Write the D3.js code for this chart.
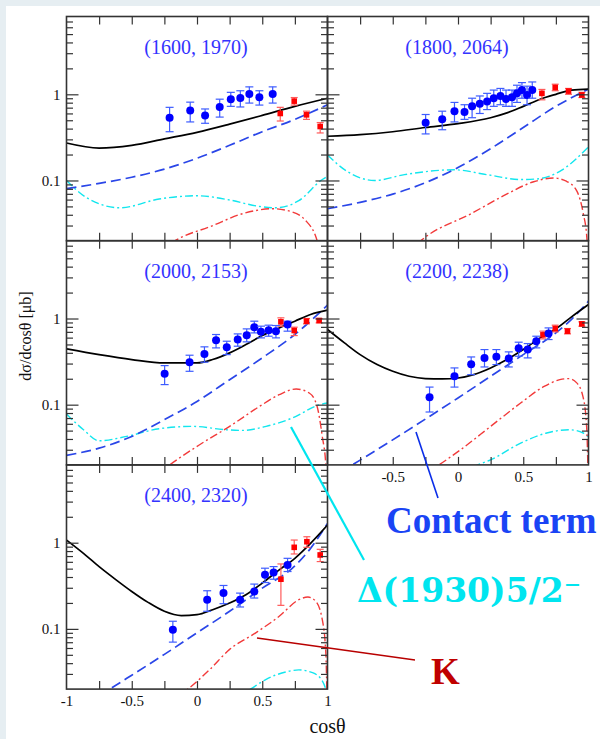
<!DOCTYPE html>
<html>
<head>
<meta charset="utf-8">
<script src="https://cdn.jsdelivr.net/npm/d3@7"></script>
<style>
  html, body { margin: 0; padding: 0; background: #fff; }
  svg { display: block; }
</style>
</head>
<body>
<div id="chart"></div>
<script>
// ---------------- DATA ----------------
const panelTitles = ["(1600, 1970)", "(1800, 2064)", "(2000, 2153)", "(2200, 2238)", "(2400, 2320)"];

// CLAS-like data (blue circles): [cosθ, value, low, high]
const blue1 = [[-0.21,0.535,0.368,0.706],[-0.052,0.647,0.478,0.811],[0.062,0.569,0.461,0.676],[0.174,0.713,0.544,0.878],[0.259,0.878,0.725,1.054],[0.332,0.909,0.713,1.10],[0.401,1.01,0.791,1.22],[0.478,0.925,0.75,1.10],[0.58,1.01,0.791,1.22]];
const blue2 = [[-0.248,0.469,0.347,0.583],[-0.121,0.512,0.388,0.637],[-0.027,0.637,0.478,0.805],[0.05,0.625,0.512,0.757],[0.108,0.725,0.535,0.901],[0.167,0.778,0.599,0.957],[0.223,0.826,0.665,1.026],[0.274,0.901,0.725,1.12],[0.325,0.957,0.757,1.17],[0.368,0.885,0.725,1.12],[0.414,0.925,0.725,1.12],[0.452,1.026,0.805,1.275],[0.49,1.12,0.901,1.367],[0.529,0.983,0.757,1.243],[0.569,1.12,0.901,1.391]];
const blue3 = [[-0.248,0.229,0.171,0.284],[-0.057,0.311,0.244,0.375],[0.057,0.388,0.311,0.469],[0.146,0.56,0.456,0.652],[0.228,0.464,0.381,0.545],[0.312,0.57,0.477,0.663],[0.381,0.64,0.536,0.758],[0.439,0.793,0.681,0.931],[0.49,0.70,0.596,0.815],[0.549,0.731,0.623,0.837],[0.605,0.713,0.596,0.829],[0.694,0.851,0.713,0.931]];
const blue4 = [[-0.218,0.1217,0.0822,0.16],[-0.027,0.2135,0.16,0.267],[0.101,0.294,0.223,0.358],[0.203,0.349,0.274,0.436],[0.294,0.361,0.292,0.436],[0.389,0.343,0.274,0.41],[0.465,0.452,0.365,0.531],[0.534,0.436,0.349,0.512],[0.6,0.545,0.456,0.623],[0.694,0.669,0.57,0.778]];
const blue5 = [[-0.185,0.0974,0.0702,0.1226],[0.078,0.218,0.16,0.277],[0.203,0.26,0.196,0.319],[0.33,0.218,0.1795,0.26],[0.439,0.272,0.228,0.331],[0.521,0.424,0.345,0.506],[0.587,0.451,0.377,0.528],[0.694,0.552,0.463,0.659]];

// second data set (red squares): [cosθ, value, low, high]
const red1 = [[0.638,0.599,0.49,0.706],[0.745,0.833,0.75,0.917],[0.839,0.578,0.512,0.637],[0.944,0.423,0.356,0.47]];
const red2 = [[0.643,1.026,0.863,1.139],[0.745,1.20,1.10,1.31],[0.847,1.09,1.0,1.17],[0.949,0.983,0.917,1.054]];
const red3 = [[0.643,0.915,0.814,1.018],[0.745,0.725,0.634,0.793],[0.839,0.931,0.867,1.0],[0.936,0.948,0.89,1.0]];
const red4 = [[0.651,0.646,0.58,0.713],[0.745,0.765,0.70,0.837],[0.839,0.713,0.663,0.765],[0.949,0.867,0.814,0.915]];
const red5 = [[0.643,0.377,0.1875,0.567],[0.745,0.884,0.74,1.074],[0.842,1.027,0.884,1.173],[0.944,0.721,0.604,0.838]];

// total (black solid)
const total1 = [[-1,0.272],[-0.75,0.238],[-0.5,0.256],[-0.25,0.304],[0,0.362],[0.25,0.45],[0.5,0.569],[0.75,0.725],[1,0.901]];
const total2 = [[-1,0.326],[-0.75,0.34],[-0.5,0.368],[-0.25,0.412],[0,0.457],[0.25,0.535],[0.375,0.609],[0.5,0.725],[0.63,0.878],[0.75,1.0],[0.87,1.12],[1,1.149]];
const total3 = [[-1,0.444],[-0.75,0.381],[-0.5,0.334],[-0.25,0.305],[0,0.305],[0.12,0.334],[0.25,0.399],[0.375,0.499],[0.5,0.634],[0.63,0.778],[0.75,0.931],[0.87,1.113],[1,1.25]];
const total4 = [[-1,0.745],[-0.87,0.521],[-0.75,0.381],[-0.62,0.292],[-0.5,0.244],[-0.375,0.2135],[-0.25,0.2006],[-0.12,0.1988],[0,0.204],[0.12,0.223],[0.25,0.267],[0.375,0.334],[0.5,0.436],[0.63,0.596],[0.75,0.758],[0.87,1.046],[1,1.455]];
const total5 = [[-1,1.074],[-0.87,0.753],[-0.75,0.528],[-0.62,0.371],[-0.5,0.272],[-0.375,0.203],[-0.25,0.16],[-0.12,0.1425],[0,0.1463],[0.12,0.167],[0.25,0.1995],[0.375,0.249],[0.5,0.34],[0.63,0.484],[0.75,0.659],[0.87,0.982],[1,1.6]];

// contact term (blue dashed)
const contact1 = [[-1,0.0805],[-0.75,0.0925],[-0.5,0.109],[-0.25,0.1356],[0,0.181],[0.25,0.256],[0.5,0.368],[0.75,0.512],[1,0.757]];
const contact2 = [[-1,0.047],[-0.75,0.0558],[-0.5,0.0695],[-0.25,0.0942],[0,0.1415],[0.25,0.234],[0.5,0.412],[0.75,0.725],[1,1.149]];
const contact3 = [[-1,0.0258],[-0.75,0.0313],[-0.5,0.0428],[-0.25,0.067],[0,0.109],[0.25,0.195],[0.5,0.349],[0.75,0.652],[1,1.43]];
const contact4 = [[-1,0.0135],[-0.81,0.02],[-0.54,0.0358],[-0.25,0.068],[0,0.1196],[0.25,0.2135],[0.5,0.381],[0.75,0.681],[0.87,0.98],[1,1.59]];
const contact5 = [[-0.85,0.0138],[-0.67,0.02],[-0.5,0.029],[-0.25,0.0506],[0,0.09],[0.25,0.16],[0.5,0.297],[0.75,0.538],[0.87,0.86],[1,1.67]];

// Δ(1930)5/2⁻ (cyan dash-dot)
const delta1 = [[-1,0.1],[-0.85,0.0637],[-0.59,0.0482],[-0.29,0.0609],[0,0.0665],[0.25,0.0594],[0.48,0.0499],[0.6,0.0482],[0.78,0.0583],[0.96,0.1026],[1,0.112]];
const delta2 = [[-1,0.197],[-0.85,0.1276],[-0.64,0.1],[-0.41,0.117],[-0.03,0.133],[0.22,0.117],[0.48,0.1026],[0.6,0.104],[0.78,0.1276],[1,0.245]];
const delta3 = [[-1,0.0779],[-0.87,0.0512],[-0.75,0.0381],[-0.54,0.0428],[-0.29,0.0526],[-0.03,0.056],[0.22,0.0512],[0.35,0.0503],[0.53,0.056],[0.73,0.07],[0.94,0.1],[1,0.1045]];
const delta4 = [[0,0.016],[0.15,0.02],[0.25,0.0229],[0.48,0.0358],[0.68,0.0469],[0.85,0.0512],[0.96,0.0469],[1,0.042]];
const delta5 = [[0.3,0.016],[0.41,0.02],[0.53,0.026],[0.68,0.0316],[0.78,0.0334],[0.885,0.031],[0.96,0.0249],[0.987,0.02],[1,0.017]];

// K exchange (red dash-dot)
const kaon1 = [[-0.3,0.015],[-0.12,0.0219],[0.1,0.0291],[0.35,0.0412],[0.58,0.047],[0.73,0.0431],[0.83,0.0346],[0.91,0.0224],[0.96,0.012]];
const kaon2 = [[-0.4,0.014],[-0.25,0.022],[0.1,0.0412],[0.35,0.0665],[0.58,0.0966],[0.73,0.107],[0.83,0.098],[0.91,0.0757],[0.96,0.0412],[0.987,0.022],[0.997,0.008]];
const kaon3 = [[-0.4,0.012],[-0.21,0.02],[0.02,0.0343],[0.25,0.056],[0.48,0.0957],[0.63,0.1306],[0.76,0.152],[0.86,0.1367],[0.92,0.0957],[0.96,0.0428],[0.987,0.02],[0.997,0.008]];
const kaon4 = [[-0.35,0.013],[-0.146,0.02],[0.02,0.03],[0.25,0.056],[0.48,0.1045],[0.66,0.163],[0.78,0.195],[0.85,0.2006],[0.91,0.179],[0.96,0.1196],[0.987,0.0512],[0.998,0.012]];
const kaon5 = [[-0.25,0.013],[-0.07,0.02],[0.1,0.034],[0.25,0.0578],[0.45,0.09],[0.63,0.14],[0.78,0.218],[0.85,0.234],[0.91,0.2086],[0.96,0.128],[0.987,0.0528],[0.998,0.012]];

// axis ticks
const xMinorTicks = [-0.75,-0.5,-0.25,0,0.25,0.5,0.75];
const xLabelTicksFull = [-1,-0.5,0,0.5,1];
const xLabelTicksNoFirst = [-0.5,0,0.5,1];
const yMajorTicks = [0.1, 1];
const yMinorTicks = [0.03,0.04,0.05,0.06,0.07,0.08,0.09,0.2,0.3,0.4,0.5,0.6,0.7,0.8,0.9,2,3,4,5,6,7];
const yTickLabels = {0.1: "0.1", 1: "1"};

// ---------------- LAYOUT ----------------
const W = 600, H = 739;
const X0 = 66.5, Y0 = 16.5, PW = 261, PH = 224.2;

const panels = [
  {col:0,row:0,title:panelTitles[0],blue:blue1,red:red1,total:total1,contact:contact1,delta:delta1,kaon:kaon1,yLabels:true,xLabels:null},
  {col:1,row:0,title:panelTitles[1],blue:blue2,red:red2,total:total2,contact:contact2,delta:delta2,kaon:kaon2,yLabels:false,xLabels:null},
  {col:0,row:1,title:panelTitles[2],blue:blue3,red:red3,total:total3,contact:contact3,delta:delta3,kaon:kaon3,yLabels:true,xLabels:null},
  {col:1,row:1,title:panelTitles[3],blue:blue4,red:red4,total:total4,contact:contact4,delta:delta4,kaon:kaon4,yLabels:false,xLabels:xLabelTicksNoFirst},
  {col:0,row:2,title:panelTitles[4],blue:blue5,red:red5,total:total5,contact:contact5,delta:delta5,kaon:kaon5,yLabels:true,xLabels:xLabelTicksFull}
];

const serif = "'Liberation Serif','Times New Roman',Times,serif";
const frameColor = "#333";

const svg = d3.select("#chart").append("svg").attr("width", W).attr("height", H)
  .attr("viewBox", `0 0 ${W} ${H}`);

svg.append("rect").attr("width", W).attr("height", H).attr("fill", "#fff");
// light border strips
svg.append("rect").attr("x",0).attr("y",0).attr("width",W).attr("height",6).attr("fill","#e6eef2");
svg.append("rect").attr("x",0).attr("y",0).attr("width",6).attr("height",H).attr("fill","#e6eef2");

const x = d3.scaleLinear().domain([-1, 1]).range([0, PW]);
const y = d3.scaleLog().domain([0.02, 8]).range([PH, 0]);

const line = d3.line().x(d => x(d[0])).y(d => y(d[1])).curve(d3.curveMonotoneX);

panels.forEach((p, i) => {
  const g = svg.append("g").attr("transform", `translate(${X0 + p.col*PW},${Y0 + p.row*PH})`);
  const clipId = "clip" + i;
  g.append("clipPath").attr("id", clipId).append("rect").attr("width", PW).attr("height", PH);

  const curves = g.append("g").attr("clip-path", `url(#${clipId})`);
  curves.append("path").datum(p.delta).attr("d", line).attr("fill","none")
    .attr("stroke","#12e6ee").attr("stroke-width",1.4).attr("stroke-dasharray","8,3,2,3");
  curves.append("path").datum(p.kaon).attr("d", line).attr("fill","none")
    .attr("stroke","#f23a3a").attr("stroke-width",1.4).attr("stroke-dasharray","8,3,2,3");
  curves.append("path").datum(p.contact).attr("d", line).attr("fill","none")
    .attr("stroke","#2a46e8").attr("stroke-width",1.7).attr("stroke-dasharray","10,5");
  curves.append("path").datum(p.total).attr("d", line).attr("fill","none")
    .attr("stroke","#000").attr("stroke-width",1.7);

  // title
  g.append("text").attr("x", PW/2 - 1).attr("y", 37.5).attr("text-anchor","middle")
    .attr("font-family", serif).attr("font-size", 20).attr("fill", "#3333ff").text(p.title);

  // error bars + symbols (red)
  const rg = g.append("g");
  p.red.forEach(d => {
    const cx = x(d[0]);
    rg.append("line").attr("x1",cx).attr("x2",cx).attr("y1",y(d[2])).attr("y2",y(d[3])).attr("stroke","#ff5a5a").attr("stroke-width",1.2);
    [d[2], d[3]].forEach(v => rg.append("line").attr("x1",cx-3.5).attr("x2",cx+3.5).attr("y1",y(v)).attr("y2",y(v)).attr("stroke","#ff5a5a").attr("stroke-width",1.2));
    rg.append("rect").attr("x",cx-2.8).attr("y",y(d[1])-2.8).attr("width",5.6).attr("height",5.6).attr("fill","#ff0000");
  });
  // blue
  const bg = g.append("g");
  p.blue.forEach(d => {
    const cx = x(d[0]);
    bg.append("line").attr("x1",cx).attr("x2",cx).attr("y1",y(d[2])).attr("y2",y(d[3])).attr("stroke","#3d5cff").attr("stroke-width",1.2);
    [d[2], d[3]].forEach(v => bg.append("line").attr("x1",cx-4).attr("x2",cx+4).attr("y1",y(v)).attr("y2",y(v)).attr("stroke","#3d5cff").attr("stroke-width",1.2));
    bg.append("circle").attr("cx",cx).attr("cy",y(d[1])).attr("r",4).attr("fill","#0000ff");
  });

  // axes (ticks inside on all sides)
  const styleAxis = sel => {
    sel.select(".domain").remove();
    sel.selectAll(".tick line").attr("stroke", frameColor).attr("stroke-width", 1.2);
    sel.selectAll(".tick text").attr("font-family", serif).attr("font-size", 15).attr("fill", "#111");
  };
  // bottom
  g.append("g").attr("transform",`translate(0,${PH})`)
    .call(d3.axisBottom(x).tickValues(xMinorTicks).tickSize(-8).tickSizeOuter(0).tickFormat(""))
    .call(styleAxis);
  if (p.xLabels) {
    g.append("g").attr("transform",`translate(0,${PH})`)
      .call(d3.axisBottom(x).tickValues(p.xLabels).tickSize(0).tickSizeOuter(0).tickPadding(6)
        .tickFormat(d => d === 0 ? "0" : (d === 1 ? "1" : (d === -1 ? "-1" : d3.format("")(d).replace("−","-")))))
      .call(styleAxis);
  }
  // top
  g.append("g")
    .call(d3.axisTop(x).tickValues(xMinorTicks).tickSize(-8).tickSizeOuter(0).tickFormat(""))
    .call(styleAxis);
  // left
  g.append("g")
    .call(d3.axisLeft(y).tickValues(yMinorTicks).tickSize(-6.5).tickSizeOuter(0).tickFormat(""))
    .call(styleAxis);
  g.append("g")
    .call(d3.axisLeft(y).tickValues(yMajorTicks).tickSize(-12).tickSizeOuter(0).tickPadding(6)
      .tickFormat(d => p.yLabels ? yTickLabels[d] : ""))
    .call(styleAxis);
  // right
  g.append("g").attr("transform",`translate(${PW},0)`)
    .call(d3.axisRight(y).tickValues(yMinorTicks).tickSize(-6.5).tickSizeOuter(0).tickFormat(""))
    .call(styleAxis);
  g.append("g").attr("transform",`translate(${PW},0)`)
    .call(d3.axisRight(y).tickValues(yMajorTicks).tickSize(-12).tickSizeOuter(0).tickFormat(""))
    .call(styleAxis);

  // frame
  g.append("rect").attr("width", PW).attr("height", PH).attr("fill","none")
    .attr("stroke", frameColor).attr("stroke-width", 1.6);
});

// axis titles
svg.append("text").attr("x", X0 + PW).attr("y", 733).attr("text-anchor","middle")
  .attr("font-family", serif).attr("font-size", 20).attr("fill","#111").text("cosθ");
svg.append("text").attr("transform","translate(31,336) rotate(-90)").attr("text-anchor","middle")
  .attr("font-family", serif).attr("font-size", 16).attr("fill","#111").text("dσ/dcosθ [μb]");

// annotations (pointer lines + labels)
const annotations = [
  {x1:416, y1:432, x2:438, y2:498, color:"#0a2de8", w:1.6},
  {x1:291, y1:427, x2:364, y2:560, color:"#00e5ef", w:2.2},
  {x1:257, y1:638, x2:415, y2:660, color:"#b80000", w:1.3}
];
annotations.forEach(a => svg.append("line").attr("x1",a.x1).attr("y1",a.y1).attr("x2",a.x2).attr("y2",a.y2)
  .attr("stroke",a.color).attr("stroke-width",a.w));

svg.append("text").attr("x", 386).attr("y", 532.5).attr("font-family", serif).attr("font-weight","bold")
  .attr("font-size", 37).attr("fill","#1a44f5").text("Contact term");
svg.append("text").attr("x", 357).attr("y", 601.5).attr("font-family", "'DejaVu Serif',serif").attr("font-weight","bold")
  .attr("font-size", 33).attr("fill","#00e5ef").text("Δ(1930)5/2⁻");
svg.append("text").attr("x", 431).attr("y", 684).attr("font-family", serif).attr("font-weight","bold")
  .attr("font-size", 37).attr("fill","#c00000").text("K");
</script>
</body>
</html>
